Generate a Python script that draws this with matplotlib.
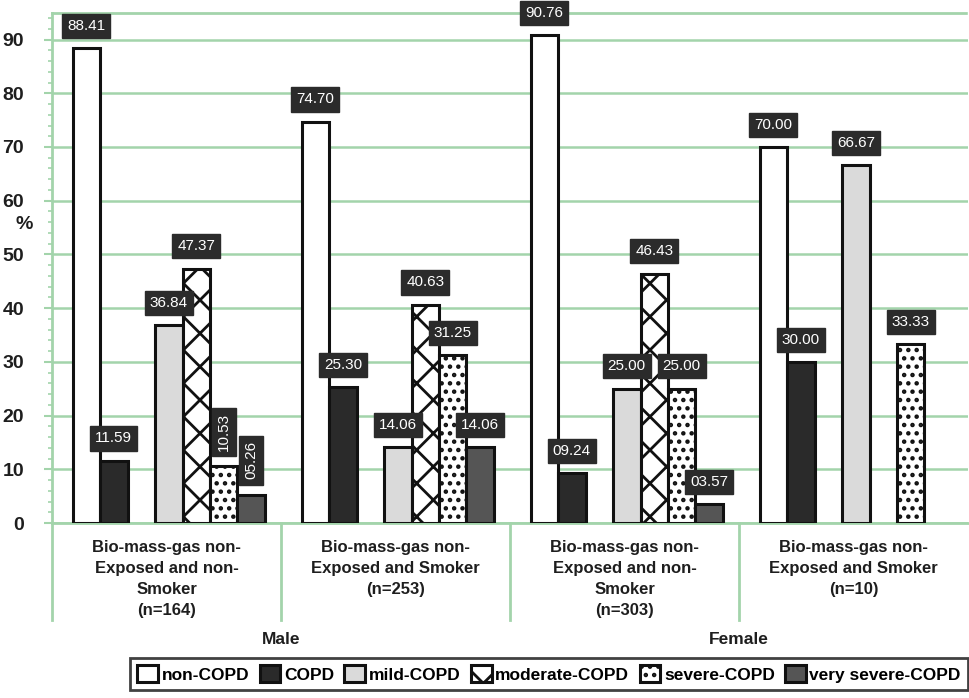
import numpy as np
import matplotlib
matplotlib.use("Agg")
import matplotlib.pyplot as plt
from matplotlib.transforms import blended_transform_factory

# ---- data ----
groups = ["Bio-mass-gas non-\nExposed and non-\nSmoker\n(n=164)",
          "Bio-mass-gas non-\nExposed and Smoker\n(n=253)",
          "Bio-mass-gas non-\nExposed and non-\nSmoker\n(n=303)",
          "Bio-mass-gas non-\nExposed and Smoker\n(n=10)"]
sexes = ["Male", "Female"]
series_names = ["non-COPD", "COPD", "mild-COPD", "moderate-COPD", "severe-COPD", "very severe-COPD"]
non_copd = [88.41, 74.70, 90.76, 70.00]
copd = [11.59, 25.30, 9.24, 30.00]
mild = [36.84, 14.06, 25.00, 66.67]
moderate = [47.37, 40.63, 46.43, 0.0]
severe = [10.53, 31.25, 25.00, 33.33]
very_severe = [5.26, 14.06, 3.57, 0.0]
yticks = [0, 10, 20, 30, 40, 50, 60, 70, 80, 90]

series = [non_copd, copd, mild, moderate, severe, very_severe]

plt.rcParams['font.family'] = ['Liberation Sans', 'DejaVu Sans']
plt.rcParams['hatch.linewidth'] = 2.0

GREEN = '#a3d4ab'
DARK = '#1e1e1e'
fig = plt.figure(figsize=(9.70, 6.98), dpi=100)
ax = fig.add_axes([52/970, 175/698, 916/970, 510.3/698])

styles = [
    dict(facecolor='white', hatch=None),
    dict(facecolor='#2a2a2a', hatch=None),
    dict(facecolor='#dadada', hatch=None),
    dict(facecolor='white', hatch='x'),
    dict(facecolor='white', hatch='..'),
    dict(facecolor='#555555', hatch=None),
]
slots = [-3, -2, 0, 1, 2, 3]
w = 0.12
x = np.arange(len(groups))
handles = []
for si, (vals, st) in enumerate(zip(series, styles)):
    vals = np.array(vals, dtype=float)
    mask = vals > 0
    bars = ax.bar(x[mask] + slots[si] * w + 0.01, vals[mask], width=w,
                  facecolor=st['facecolor'], edgecolor='#111111',
                  linewidth=2.2, hatch=st['hatch'], zorder=3,
                  label=series_names[si])
    handles.append(bars)
    for xi, v in zip(x[mask], vals[mask]):
        rot = 90 if (xi == 0 and si in (4, 5)) else 0
        ax.annotate(f"{v:05.2f}", xy=(xi + slots[si] * w + 0.01, v),
                    xytext=(0, 11), textcoords='offset points',
                    ha='center', va='bottom', rotation=rot,
                    fontsize=11, color='white', zorder=5,
                    bbox=dict(boxstyle='square,pad=0.33', facecolor='#2b2b2b',
                              edgecolor='#2b2b2b'))

ax.set_xlim(-0.5, 3.5)
ax.set_ylim(0, 95)
ax.set_yticks(yticks)
ax.set_yticks(np.arange(0, 95, 2), minor=True)
ax.set_yticklabels([str(t) for t in yticks], fontsize=14, fontweight='bold', color=DARK)
ax.tick_params(axis='y', which='major', length=6, width=1.5, color=GREEN, pad=14)
ax.tick_params(axis='y', which='minor', length=3, width=1.2, color=GREEN)
ax.set_xticks([])
ax.grid(axis='y', color=GREEN, linewidth=1.8, zorder=0)
for side in ['left', 'top', 'bottom']:
    ax.spines[side].set_color(GREEN)
    ax.spines[side].set_linewidth(2)
ax.spines['top'].set_linestyle((0, (2, 1)))
ax.spines['right'].set_visible(False)

tr = blended_transform_factory(ax.transData, ax.transAxes)
for k in range(len(groups)):
    ax.plot([k - 0.5, k - 0.5], [0, -0.19], transform=tr, color=GREEN,
            linewidth=2, clip_on=False)
    ax.text(k, -0.034, groups[k], transform=tr, ha='center', va='top',
            fontsize=12, fontweight='bold', linespacing=1.5, color=DARK)
for i, s in enumerate(sexes):
    ax.text(0.5 + 2 * i, -0.228, s, transform=tr, ha='center', va='center',
            fontsize=12.5, fontweight='bold', color=DARK)

ax.text(-0.03, 55.5, "%", transform=blended_transform_factory(ax.transAxes, ax.transData),
        ha='center', va='center', fontsize=14, fontweight='bold', color=DARK)

leg = fig.legend(handles=handles, labels=series_names, loc='center',
                 bbox_to_anchor=(549/970, 1 - 674/698), ncol=6, frameon=True,
                 fancybox=False, edgecolor='#111111',
                 handlelength=1.2, handleheight=1.1, handletextpad=0.2,
                 columnspacing=0.6, borderpad=0.4,
                 prop=dict(weight='bold', size=12.5))
leg.get_frame().set_linewidth(2)

fig.savefig("out.png", dpi=100)
